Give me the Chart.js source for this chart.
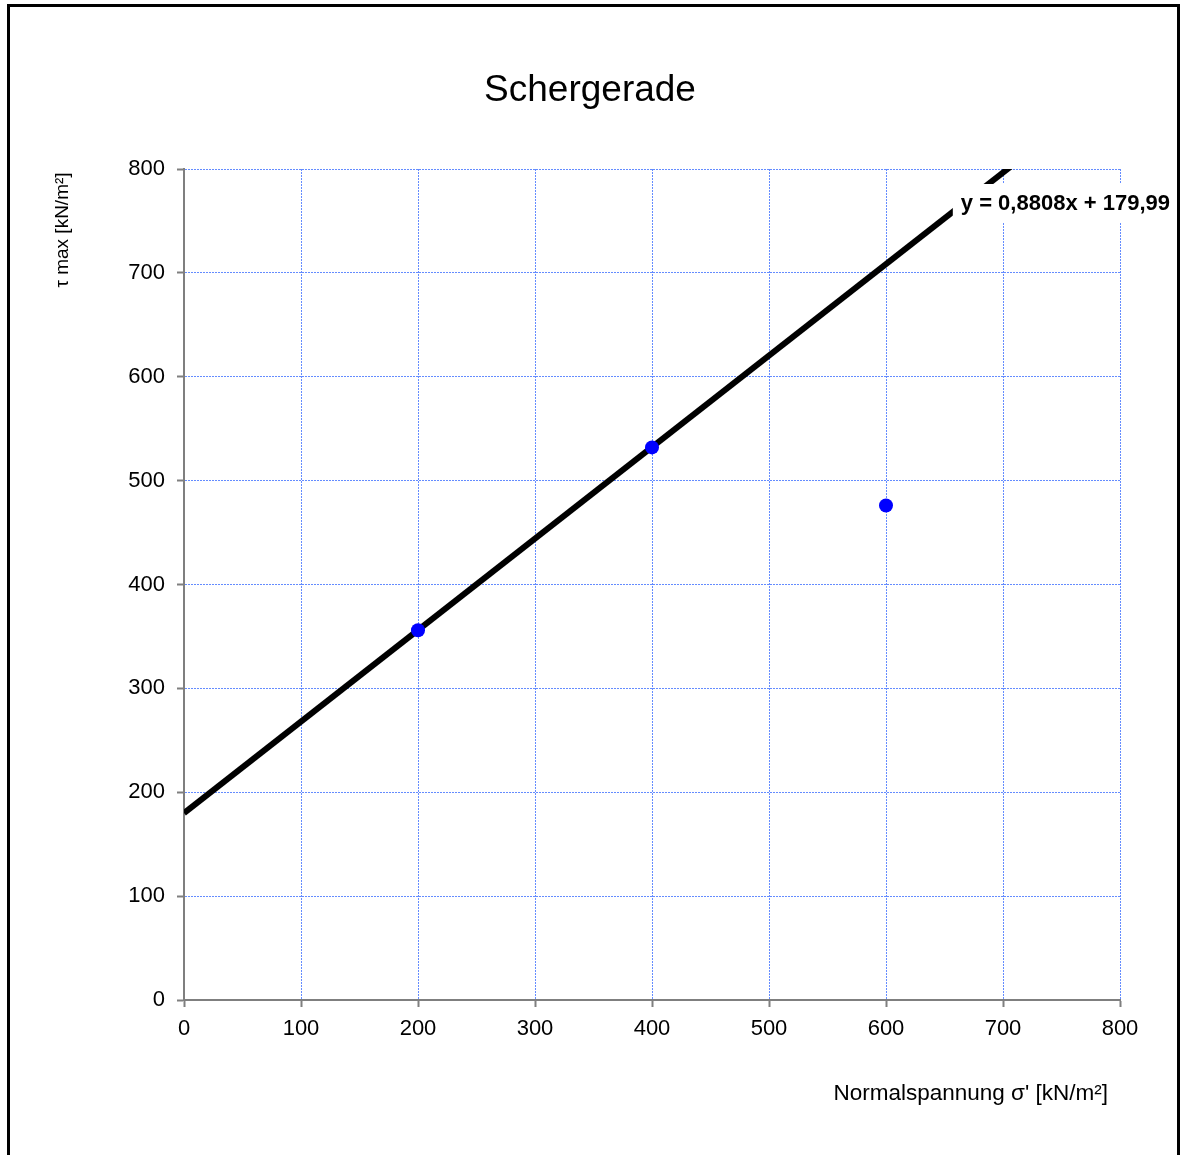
<!DOCTYPE html>
<html>
<head>
<meta charset="utf-8">
<script src="https://cdn.jsdelivr.net/npm/chart.js@4/dist/chart.umd.min.js"></script>
<style>
html,body{margin:0;padding:0;background:#fff;}
#wrap{position:relative;width:1183px;height:1155px;}
</style>
</head>
<body>
<div id="wrap"><canvas id="c" width="1183" height="1155"></canvas></div>
<script>
// ---- data ----
const sigma = [200, 400, 600];          // Normalspannung σ' [kN/m²]
const tauMax = [356, 532, 476];         // τ max [kN/m²]
const trendSlope = 0.8808;
const trendIntercept = 179.99;
const trendRange = [0, 800];
const axisMin = 0, axisMax = 800, axisStep = 100;
const chartTitle = 'Schergerade';
const xTitle = "Normalspannung \u03c3' [kN/m\u00b2]";
const yTitle = '\u03c4 max [kN/m\u00b2]';
const trendLabel = 'y = 0,8808x + 179,99';

const FONT = "'Liberation Sans', Arial, sans-serif";

const points = sigma.map((x, i) => ({x: x, y: tauMax[i]}));
const trend = trendRange.map(x => ({x: x, y: trendSlope * x + trendIntercept}));

const deco = {
  id: 'deco',
  afterDraw(chart) {
    const ctx = chart.ctx;
    const a = chart.chartArea;
    ctx.save();
    // frame
    ctx.strokeStyle = '#000';
    ctx.lineWidth = 3;
    ctx.strokeRect(8.5, 5.5, 1170, 1170);
    // title
    ctx.fillStyle = '#000';
    ctx.textAlign = 'center';
    ctx.textBaseline = 'middle';
    ctx.font = '37px ' + FONT;
    ctx.fillText(chartTitle, 590, 91);
    // x title
    ctx.font = '22.5px ' + FONT;
    ctx.textAlign = 'right';
    ctx.fillText(xTitle, 1108, 1094);
    // y title
    ctx.save();
    ctx.translate(63, 230);
    ctx.rotate(-Math.PI / 2);
    ctx.textAlign = 'center';
    ctx.font = '19px ' + FONT;
    ctx.fillText(yTitle, 0, 0);
    ctx.restore();
    // trendline label
    ctx.font = 'bold 22px ' + FONT;
    const w = ctx.measureText(trendLabel).width;
    const rx = a.right + 50, cy = 204;
    ctx.fillStyle = '#fff';
    ctx.fillRect(rx - w - 8, cy - 20, w + 14, 39);
    ctx.fillStyle = '#000';
    ctx.textAlign = 'right';
    ctx.fillText(trendLabel, rx, cy);
    ctx.restore();
  }
};

function gridCfg() {
  return {
    color: 'rgb(100,140,255)',
    lineWidth: 1,
    tickLength: 7,
    tickColor: '#7f7f7f',
    tickWidth: 2,
    tickBorderDash: [],
    drawTicks: true
  };
}

new Chart(document.getElementById('c'), {
  type: 'scatter',
  data: {
    datasets: [
      {
        type: 'line',
        data: trend,
        borderColor: '#000',
        borderWidth: 6,
        pointRadius: 0,
        fill: false,
        clip: 0,
        order: 2
      },
      {
        data: points,
        backgroundColor: '#0000ff',
        borderColor: '#0000ff',
        pointRadius: 7,
        pointBorderWidth: 0,
        order: 1
      }
    ]
  },
  options: {
    responsive: false,
    animation: false,
    devicePixelRatio: 1,
    layout: {padding: {left: 0, top: 169, right: 63, bottom: 0}},
    plugins: {legend: {display: false}, tooltip: {enabled: false}, title: {display: false}},
    scales: {
      x: {
        type: 'linear', min: axisMin, max: axisMax,
        ticks: {stepSize: axisStep, color: '#000', font: {family: FONT, size: 22}, padding: 9, maxRotation: 0},
        grid: gridCfg(),
        border: {color: '#7f7f7f', width: 2, dash: [2, 1]},
        afterFit(s) { s.height = 155; }
      },
      y: {
        type: 'linear', min: axisMin, max: axisMax,
        ticks: {stepSize: axisStep, color: '#000', font: {family: FONT, size: 22}, padding: 12},
        grid: gridCfg(),
        border: {color: '#7f7f7f', width: 2, dash: [2, 1]},
        afterFit(s) { s.width = 184; }
      }
    }
  },
  plugins: [deco]
});
</script>
</body>
</html>
